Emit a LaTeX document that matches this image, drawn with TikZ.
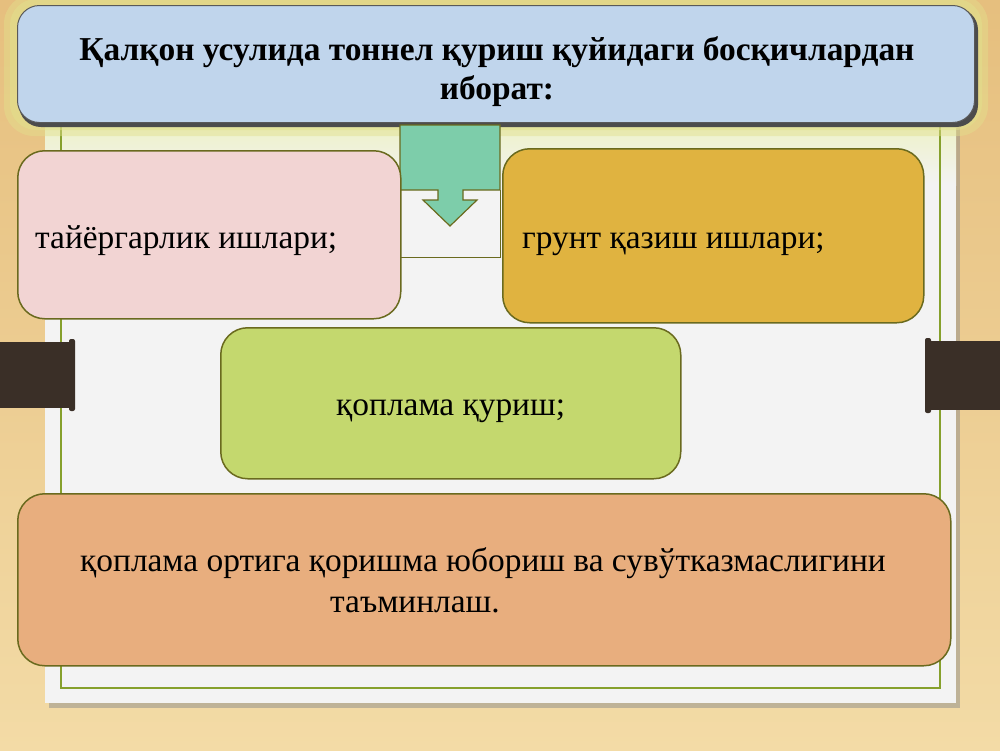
\documentclass[tikz,border=0pt]{standalone}
\usepackage{fontspec}
\setmainfont{Liberation Serif}
\usetikzlibrary{positioning}
\usetikzlibrary{calc}

\definecolor{woodtop}{HTML}{E6BF7E}
\definecolor{woodbottom}{HTML}{F3DBA6}
\definecolor{boardwhite}{HTML}{F3F3F3}
\definecolor{boardtint}{HTML}{ECF1BE}
\definecolor{frameolive}{HTML}{86A02C}
\definecolor{edgeolive}{HTML}{6A6A1E}
\definecolor{barbrown}{HTML}{3A2F27}
\definecolor{titleblue}{HTML}{C0D5EC}
\definecolor{titleglow}{HTML}{E2E08C}
\definecolor{arrowmint}{HTML}{7DCDAA}
\definecolor{pinkfill}{HTML}{F2D4D3}
\definecolor{goldfill}{HTML}{E0B340}
\definecolor{limefill}{HTML}{C4D86E}
\definecolor{salmonfill}{HTML}{E8AE7E}

\newcommand{\titlefont}{\fontsize{33.4}{39}\selectfont\bfseries}
\newcommand{\itemfont}{\fontsize{33.4}{41}\selectfont}

\begin{document}
\begin{tikzpicture}[x=1pt, y=-1pt,
                pinkroundednode/.style={rectangle, rounded corners=27pt, draw=edgeolive, fill=pinkfill, line width=1.5pt, anchor=north west},
                goldroundednode/.style={rectangle, rounded corners=27pt, draw=edgeolive, fill=goldfill, line width=1.5pt, anchor=north west},
                limeroundednode/.style={rectangle, rounded corners=27pt, draw=edgeolive, fill=limefill, line width=1.5pt, anchor=north west},
                salmonroundednode/.style={rectangle, rounded corners=27pt, draw=edgeolive, fill=salmonfill, line width=1.5pt, anchor=north west},
                bluetitlenode/.style={rectangle, rounded corners=22pt, draw=gray!70!black, fill=titleblue, line width=1pt, anchor=north west},
                itemtext/.style={font=\itemfont, inner sep=0pt, anchor=base west},
                ]
    \useasboundingbox (0,0) rectangle (1000,750);

    % wooden background, board and its frame
    \shade[top color=woodtop, bottom color=woodbottom] (0,0) rectangle (1000,750);
    \fill[black!45, opacity=0.5] (49,14) rectangle (960,708);
    \fill[boardwhite] (45,10) rectangle (956,703);
    \shade[top color=boardtint, bottom color=boardwhite] (45,110) rectangle (956,185);
    \draw[frameolive, line width=1.5pt] (61,110) rectangle (940,688);

    % dark bars on both sides
    \fill[barbrown] (0,342) rectangle (72,408);
    \fill[barbrown, rounded corners=2pt] (69,339) rectangle (75,411);
    \fill[barbrown] (928,341) rectangle (1000,410);
    \fill[barbrown, rounded corners=2pt] (925,338) rectangle (931,413);

    % title with glow and shadow
    \fill[titleglow, opacity=0.45, rounded corners=30pt] (4,-6) rectangle (988,136);
    \fill[titleglow, opacity=0.5, rounded corners=26pt] (10,-1) rectangle (982,130);
    \fill[black!70, rounded corners=22pt] (19,8) rectangle (978,127);
    \node[bluetitlenode, minimum width=957, minimum height=117] (title) at (17,5) {};
    \node[font=\titlefont, align=center, inner sep=0pt] (titletext) at (497,72)
        {Қалқон усулида тоннел қуриш қуйидаги босқичлардан\\иборат:};

    % down arrow under the title
    \draw[edgeolive, line width=1pt] (400,190) -- (400,257) -- (500,257) -- (500,190);
    \draw[edgeolive, line width=1.2pt, fill=arrowmint]
        (400,125) -- (500,125) -- (500,190) -- (463,190) -- (463,200) -- (477,200)
        -- (450,226) -- (423,200) -- (438,200) -- (438,190) -- (400,190) -- cycle;

    % step boxes
    \node[pinkroundednode, minimum width=383, minimum height=168] (prep) at (17,150) {};
    \node[goldroundednode, minimum width=421, minimum height=174] (dig) at (502,148) {};
    \node[limeroundednode, minimum width=460, minimum height=151] (lining) at (220,327) {};
    \node[salmonroundednode, minimum width=933, minimum height=172] (grout) at (17,493) {};

    \node[itemtext] (preptext) at (35,248) {тайёргарлик ишлари;};
    \node[itemtext] (digtext) at (522,248) {грунт қазиш ишлари;};
    \node[itemtext] (liningtext) at (336,415) {қоплама қуриш;};
    \node[itemtext, align=left] (grouttext) at (80,612)
        {қоплама ортига қоришма юбориш ва сувўтказмаслигини\\\hspace*{250pt}таъминлаш.};
\end{tikzpicture}
\end{document}
